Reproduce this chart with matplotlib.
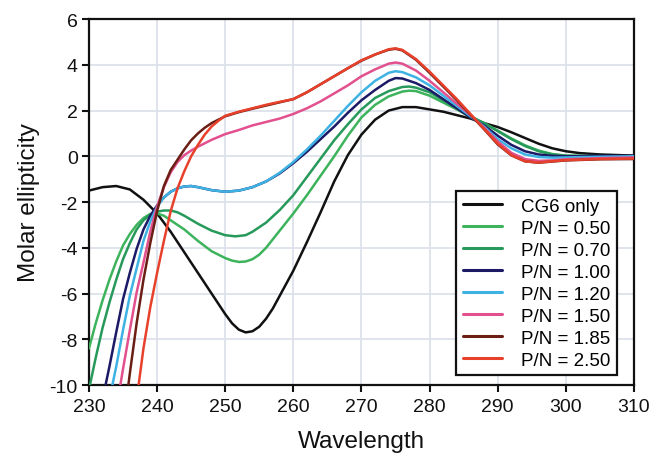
import matplotlib
matplotlib.use("Agg")
import matplotlib.pyplot as plt

plt.rcParams['font.family'] = ['Liberation Sans', 'DejaVu Sans']
plt.rcParams['axes.unicode_minus'] = False

labels = ["CG6 only", "P/N = 0.50", "P/N = 0.70", "P/N = 1.00",
          "P/N = 1.20", "P/N = 1.50", "P/N = 1.85", "P/N = 2.50"]
colors = ["#111111", "#3db35c", "#27995a", "#1c1a66",
          "#3fb2e4", "#e2508e", "#6a1e14", "#e8412b"]

# CG6 only
wl_cg6 = [230, 232, 234, 236, 238, 240, 242, 244, 246, 248, 249, 250, 251, 252, 253, 254, 255, 256,
          257, 258, 260, 262, 264, 266, 268, 270, 272, 274, 276, 278, 280, 282, 284, 286, 288,
          290, 292, 294, 296, 298, 300, 302, 305, 310]
v_cg6 = [-1.5, -1.35, -1.3, -1.45, -1.9, -2.5, -3.3, -4.2, -5.1, -6.0, -6.45, -6.9, -7.3, -7.58,
         -7.7, -7.65, -7.45, -7.1, -6.65, -6.1, -5.0, -3.75, -2.45, -1.1, 0.05, 0.95, 1.6, 2.0, 2.15,
         2.15, 2.05, 1.95, 1.8, 1.65, 1.45, 1.28, 1.05, 0.8, 0.55, 0.35, 0.22, 0.14, 0.08, 0.03]

# P/N = 0.50
wl_050 = [230, 231, 232, 233, 234, 235, 236, 237, 238, 239, 240, 241, 242, 244, 246, 248, 250,
          251, 252, 253, 254, 255, 256, 258, 260, 262, 264, 266, 268, 270, 272, 274, 276, 277, 278,
          280, 282, 284, 286, 288, 290, 292, 294, 296, 298, 300, 305, 310]
v_050 = [-8.4, -7.3, -6.3, -5.4, -4.6, -3.9, -3.4, -3.0, -2.7, -2.52, -2.5, -2.6, -2.8, -3.2, -3.7,
         -4.15, -4.45, -4.56, -4.62, -4.6, -4.5, -4.3, -4.0, -3.25, -2.5, -1.7, -0.85, 0.0, 0.9,
         1.7, 2.25, 2.62, 2.83, 2.87, 2.85, 2.65, 2.35, 2.05, 1.72, 1.45, 1.12, 0.78, 0.48, 0.25,
         0.1, 0.03, 0.0, 0.0]

# P/N = 0.70
wl_070 = [230, 231, 232, 233, 234, 235, 236, 237, 238, 239, 240, 241, 242, 243, 244, 246, 248,
          250, 251.5, 253, 254, 256, 258, 260, 262, 264, 266, 268, 270, 272, 274, 276, 277,
          278, 280, 282, 284, 286, 288, 290, 292, 294, 296, 298, 300, 305, 310]
v_070 = [-10.2, -8.8, -7.5, -6.4, -5.4, -4.5, -3.8, -3.2, -2.8, -2.55, -2.42, -2.37, -2.37, -2.45,
         -2.6, -2.95, -3.25, -3.45, -3.5, -3.45, -3.3, -2.9, -2.35, -1.7, -0.9, -0.1, 0.7, 1.4, 2.05,
         2.55, 2.85, 3.03, 3.05, 3.0, 2.8, 2.45, 2.1, 1.75, 1.45, 1.1, 0.75, 0.45, 0.22, 0.08, 0.02,
         0.0, 0.0]

# P/N = 1.00
wl_100 = [232.3, 233, 234, 235, 236, 237, 238, 239, 240, 241, 242, 243, 244, 245, 246, 248, 250,
          252, 254, 256, 258, 260, 262, 264, 266, 268, 270, 272, 274, 275, 276, 278, 280, 282,
          284, 286, 288, 290, 292, 294, 296, 298, 300, 305, 310]
v_100 = [-10.2, -9.2, -7.7, -6.25, -5.1, -4.05, -3.2, -2.6, -2.15, -1.8, -1.55, -1.4, -1.32, -1.3,
         -1.35, -1.48, -1.55, -1.5, -1.35, -1.1, -0.75, -0.3, 0.2, 0.75, 1.3, 1.9, 2.45, 2.9, 3.3,
         3.42, 3.4, 3.2, 2.9, 2.5, 2.1, 1.7, 1.35, 0.9, 0.5, 0.22, 0.08, 0.02, 0.0, 0.02, 0.02]

# P/N = 1.20
wl_120 = [233.3, 234, 235, 236, 237, 238, 239, 240, 241, 242, 243, 244, 245, 246, 248, 250,
          252, 254, 256, 258, 260, 262, 264, 266, 268, 270, 272, 274, 275, 276, 278, 280, 282,
          284, 286, 288, 290, 292, 294, 296, 298, 300, 305, 310]
v_120 = [-10.2, -9.2, -7.6, -6.1, -4.9, -3.7, -2.85, -2.2, -1.8, -1.55, -1.4, -1.32, -1.3, -1.35,
         -1.48, -1.55, -1.5, -1.35, -1.1, -0.72, -0.25, 0.3, 0.9, 1.55, 2.2, 2.8, 3.3, 3.65, 3.72,
         3.68, 3.45, 3.1, 2.65, 2.2, 1.75, 1.3, 0.75, 0.35, 0.08, -0.03, -0.06, -0.05, -0.02, 0.0]

# P/N = 1.50
wl_150 = [234.5, 235, 236, 237, 238, 239, 240, 241, 242, 243, 244, 245, 246, 248, 250, 252, 254,
          256, 258, 260, 262, 264, 266, 268, 270, 272, 274, 275, 276, 278, 280, 282, 284, 286,
          288, 290, 292, 294, 296, 298, 300, 305, 310]
v_150 = [-10.2, -9.3, -7.6, -5.95, -4.65, -3.3, -2.2, -1.35, -0.7, -0.25, 0.05, 0.25, 0.42, 0.72,
         0.97, 1.15, 1.35, 1.5, 1.65, 1.85, 2.1, 2.4, 2.75, 3.1, 3.5, 3.8, 4.05, 4.1, 4.05, 3.75,
         3.3, 2.8, 2.3, 1.8, 1.25, 0.65, 0.15, -0.12, -0.2, -0.18, -0.13, -0.08, -0.05]

# P/N = 1.85
wl_185 = [235.7, 236, 237, 238, 239, 240, 241, 242, 243, 244, 245, 246, 247, 248, 250, 252, 254,
          256, 258, 260, 262, 264, 266, 268, 270, 272, 274, 275, 276, 278, 280, 282, 284, 286,
          288, 290, 292, 294, 296, 298, 300, 305, 310]
v_185 = [-10.2, -9.5, -7.3, -5.4, -3.8, -2.4, -1.3, -0.6, -0.15, 0.3, 0.7, 1.0, 1.25, 1.45, 1.75,
         1.93, 2.08, 2.22, 2.36, 2.5, 2.8, 3.15, 3.5, 3.85, 4.18, 4.45, 4.66, 4.7, 4.63, 4.22,
         3.65, 3.05, 2.45, 1.82, 1.18, 0.52, 0.04, -0.22, -0.28, -0.23, -0.18, -0.13, -0.12]

# P/N = 2.50
wl_250 = [237.2, 238, 239, 240, 241, 242, 243, 244, 245, 246, 247, 248, 249, 250, 252, 254, 256,
          258, 260, 262, 264, 266, 268, 270, 272, 274, 275, 276, 278, 280, 282, 284, 286, 288,
          290, 292, 294, 296, 298, 300, 305, 310]
v_250 = [-10.2, -8.4, -6.6, -5.1, -3.7, -2.4, -1.4, -0.65, 0.0, 0.5, 0.95, 1.3, 1.55, 1.77, 1.95,
         2.1, 2.25, 2.38, 2.5, 2.8, 3.15, 3.5, 3.85, 4.2, 4.45, 4.68, 4.72, 4.65, 4.25, 3.7, 3.1,
         2.5, 1.85, 1.2, 0.55, 0.05, -0.22, -0.27, -0.22, -0.17, -0.12, -0.1]

series = [(wl_cg6, v_cg6), (wl_050, v_050), (wl_070, v_070), (wl_100, v_100),
          (wl_120, v_120), (wl_150, v_150), (wl_185, v_185), (wl_250, v_250)]

x_ticks = [230, 240, 250, 260, 270, 280, 290, 300, 310]
y_ticks = [-10, -8, -6, -4, -2, 0, 2, 4, 6]

fig = plt.figure(figsize=(6.54, 4.56), dpi=100)
ax = fig.add_axes([0.136, 0.1535, 0.8334, 0.8025])

for (wl, v), c, lab in zip(series, colors, labels):
    ax.plot(wl, v, color=c, lw=1.8, label=lab, solid_capstyle='round',
            solid_joinstyle='round', zorder=3)

ax.set_xlim(230, 310)
ax.set_ylim(-10, 6)
ax.set_xticks(x_ticks)
ax.set_yticks(y_ticks)
ax.set_xticklabels([str(t) for t in x_ticks])
ax.set_yticklabels([str(t) for t in y_ticks])
ax.grid(True, color="#dde2ea", lw=1.3, zorder=0)
ax.set_axisbelow(True)
for s in ax.spines.values():
    s.set_linewidth(1.6)
    s.set_color("#111111")
ax.tick_params(direction='out', length=5, width=1.5, labelsize=14, pad=3, colors="#111111")
ax.tick_params(axis='x', pad=4)

ax.set_xlabel("Wavelength", fontsize=17.5, labelpad=11, color="#111111")
ax.set_ylabel("Molar ellipticity", fontsize=17.5, labelpad=7, color="#111111")

leg = ax.legend(loc='lower right', bbox_to_anchor=(0.969, 0.027), borderaxespad=0,
                fontsize=13.5, frameon=True, fancybox=False, framealpha=1,
                edgecolor="#111111", handlelength=2.1, labelspacing=0.26,
                handletextpad=1.0, borderpad=0.35)
leg.get_frame().set_linewidth(1.6)
for line in leg.get_lines():
    line.set_linewidth(2.2)

fig.savefig("out.png", dpi=100)
